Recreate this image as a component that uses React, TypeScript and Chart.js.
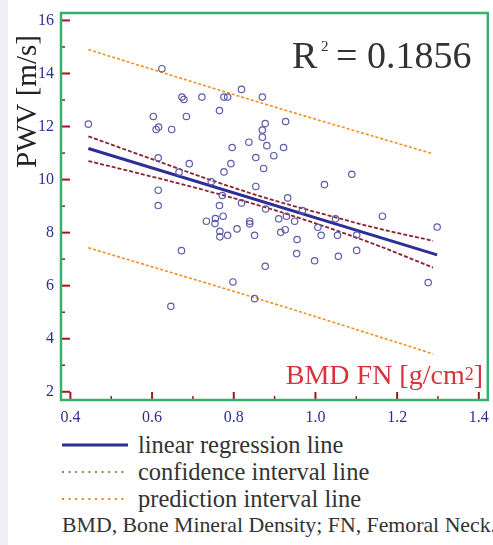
import React, { useEffect, useRef } from 'react';
import { Chart, registerables } from 'chart.js';

Chart.register(...registerables);

// BMD FN [g/cm²] (x) and PWV [m/s] (y) of each subject
const bmdFN = [
  0.444, 0.624, 0.673, 0.678, 0.722, 0.765, 0.603, 0.684, 0.616, 0.610,
  0.648, 0.615, 0.691, 0.666, 0.745, 0.615, 0.615, 0.765, 0.819, 0.776,
  0.785, 0.870, 0.877, 0.870, 0.927, 0.870, 0.881, 0.837, 0.796, 0.922,
  0.854, 0.898, 0.793, 0.873, 0.776, 1.089, 1.022, 0.854, 0.932, 0.772,
  1.164, 0.819, 0.878, 0.968, 0.774, 0.755, 0.733, 0.754, 0.839, 0.839,
  0.910, 0.929, 0.949, 1.049, 1.101, 0.766, 0.766, 0.785, 0.808, 0.851,
  0.915, 0.926, 1.006, 1.014, 1.054, 0.955, 0.954, 0.998, 1.056, 1.101,
  0.877, 0.798, 0.851, 0.672, 0.646, 1.298, 1.276,
];
const pwv = [
  12.09, 14.18, 13.11, 13.02, 13.11, 12.6, 12.38, 12.38, 11.98, 11.89,
  11.89, 10.82, 10.6, 10.28, 9.92, 9.6, 9.02, 9.02, 13.4, 13.11,
  13.11, 13.11, 12.11, 11.87, 12.19, 11.6, 11.28, 11.41, 11.21, 11.21,
  10.83, 10.9, 10.6, 10.42, 10.29, 10.2, 9.81, 9.74, 9.31, 9.4,
  8.62, 9.12, 8.89, 8.83, 8.62, 8.53, 8.43, 8.34, 8.43, 8.33,
  8.52, 8.62, 8.43, 8.52, 7.91, 8.05, 7.84, 7.9, 8.14, 7.9,
  8.01, 8.11, 8.2, 7.9, 7.9, 7.74, 7.21, 6.94, 7.11, 7.33,
  6.73, 6.14, 5.51, 7.32, 5.22, 8.21, 6.12,
];

// Linear regression line
const regX = [0.444, 1.298];
const regY = [11.17, 7.16];

// Confidence interval lines
const ciX = [0.444, 0.6, 0.75, 0.88, 1.0, 1.15, 1.288];
const ciUpper = [11.63, 10.77, 9.95, 9.3, 8.78, 8.17, 7.69];
const ciLower = [10.7, 10.11, 9.51, 8.94, 8.35, 7.53, 6.68];

// Prediction interval lines
const piX = [0.444, 0.88, 1.288];
const piUpper = [14.9, 12.83, 10.97];
const piLower = [7.43, 5.41, 3.43];

// Axes
const xTicks = [0.4, 0.6, 0.8, 1.0, 1.2, 1.4];
const xMinorTicks = [0.5, 0.7, 0.9, 1.1, 1.3];
const yTicks = [2, 4, 6, 8, 10, 12, 14, 16];
const yMinorTicks = [3, 5, 7, 9, 11, 13, 15];
const xRange = [0.377, 1.422];
const yRange = [1.69, 16.28];

const r2Text = '0.1856';

const SERIF = '"Liberation Serif", "Times New Roman", serif';
const NAVY = '#2d2f8e';
const TICK_RED = '#a3161f';
const GREEN = '#3aaf6c';

const zip = (xs: number[], ys: number[]) => xs.map((x, i) => ({ x, y: ys[i] }));

const decorPlugin = {
  id: 'decor',
  afterDraw(chart: any) {
    const { ctx, chartArea: a } = chart;
    const x = chart.scales.x;
    const y = chart.scales.y;
    ctx.save();
    ctx.strokeStyle = TICK_RED;
    const tick = (x1: number, y1: number, x2: number, y2: number, w: number) => {
      ctx.lineWidth = w;
      ctx.beginPath();
      ctx.moveTo(x1, y1);
      ctx.lineTo(x2, y2);
      ctx.stroke();
    };
    xTicks.forEach((v) => {
      const px = x.getPixelForValue(v);
      tick(px, a.bottom, px, a.bottom - 8, 2);
    });
    xMinorTicks.forEach((v) => {
      const px = x.getPixelForValue(v);
      tick(px, a.bottom, px, a.bottom - 4, 1.5);
    });
    yTicks.forEach((v) => {
      const py = y.getPixelForValue(v);
      tick(a.left, py, a.left + 9, py, 2);
    });
    yMinorTicks.forEach((v) => {
      const py = y.getPixelForValue(v);
      tick(a.left, py, a.left + 4, py, 1.5);
    });

    // frame
    ctx.strokeStyle = GREEN;
    ctx.lineWidth = 2.5;
    ctx.strokeRect(a.left, a.top, a.right - a.left, a.bottom - a.top);

    // R² annotation
    ctx.fillStyle = '#333333';
    ctx.textAlign = 'left';
    ctx.textBaseline = 'alphabetic';
    ctx.font = `38px ${SERIF}`;
    ctx.fillText('R', 292, 68);
    ctx.font = `15px ${SERIF}`;
    ctx.fillText('2', 321, 51);
    ctx.font = `38px ${SERIF}`;
    ctx.fillText('= ' + r2Text, 336, 68);

    // x axis title (inside, bottom right)
    ctx.fillStyle = '#d8323c';
    const mainFont = `28px ${SERIF}`;
    const supFont = `18px ${SERIF}`;
    ctx.font = mainFont;
    const p1 = 'BMD FN [g/cm';
    const w1 = ctx.measureText(p1).width;
    const w3 = ctx.measureText(']').width;
    ctx.font = supFont;
    const w2 = ctx.measureText('2').width;
    const endX = 483;
    let sx = endX - (w1 + w2 + w3);
    ctx.font = mainFont;
    ctx.fillText(p1, sx, 384);
    sx += w1;
    ctx.font = supFont;
    ctx.fillText('2', sx, 380);
    sx += w2;
    ctx.font = mainFont;
    ctx.fillText(']', sx, 384);

    // y axis title (rotated)
    ctx.fillStyle = '#222222';
    ctx.font = `29px ${SERIF}`;
    ctx.translate(36, 168);
    ctx.rotate(-Math.PI / 2);
    ctx.fillText('PWV [m/s]', 0, 0);
    ctx.restore();
  },
};

export default function App() {
  const ref = useRef<HTMLCanvasElement | null>(null);

  useEffect(() => {
    if (!ref.current) return;
    const chart = new Chart(ref.current, {
      type: 'scatter',
      data: {
        datasets: [
          {
            label: 'data',
            data: zip(bmdFN, pwv),
            pointStyle: 'circle',
            pointRadius: 3.2,
            pointBorderWidth: 1.2,
            borderColor: '#5c5ca8',
            backgroundColor: 'rgba(0,0,0,0)',
            showLine: false,
          },
          {
            label: 'prediction upper',
            data: zip(piX, piUpper),
            showLine: true,
            pointRadius: 0,
            borderColor: '#f0901e',
            borderWidth: 1.6,
            borderDash: [3, 2],
            cubicInterpolationMode: 'monotone',
          },
          {
            label: 'prediction lower',
            data: zip(piX, piLower),
            showLine: true,
            pointRadius: 0,
            borderColor: '#f0901e',
            borderWidth: 1.6,
            borderDash: [3, 2],
            cubicInterpolationMode: 'monotone',
          },
          {
            label: 'linear regression line',
            data: zip(regX, regY),
            showLine: true,
            pointRadius: 0,
            borderColor: '#2d2f96',
            borderWidth: 3,
          },
          {
            label: 'confidence upper',
            data: zip(ciX, ciUpper),
            showLine: true,
            pointRadius: 0,
            borderColor: '#8b2232',
            borderWidth: 1.8,
            borderDash: [4, 2],
            cubicInterpolationMode: 'monotone',
          },
          {
            label: 'confidence lower',
            data: zip(ciX, ciLower),
            showLine: true,
            pointRadius: 0,
            borderColor: '#8b2232',
            borderWidth: 1.8,
            borderDash: [4, 2],
            cubicInterpolationMode: 'monotone',
          },
        ] as any,
      },
      options: {
        responsive: false,
        animation: false,
        layout: { padding: { left: 8, right: 4, top: 13, bottom: 0 } },
        plugins: {
          legend: { display: false },
          tooltip: { enabled: false },
        },
        scales: {
          x: {
            type: 'linear',
            min: xRange[0],
            max: xRange[1],
            grid: { display: false, drawTicks: false },
            border: { display: false },
            afterBuildTicks: (s: any) => {
              s.ticks = xTicks.map((v) => ({ value: v }));
            },
            afterFit: (s: any) => {
              s.height = 25;
              s.paddingLeft = 0;
              s.paddingRight = 0;
            },
            ticks: {
              autoSkip: false,
              maxRotation: 0,
              padding: 8,
              color: NAVY,
              font: { family: SERIF, size: 16 },
              callback: (v: any) => Number(v).toFixed(1),
            },
          },
          y: {
            type: 'linear',
            min: yRange[0],
            max: yRange[1],
            grid: { display: false, drawTicks: false },
            border: { display: false },
            afterBuildTicks: (s: any) => {
              s.ticks = yTicks.map((v) => ({ value: v }));
            },
            afterFit: (s: any) => {
              s.width = 53;
              s.paddingTop = 0;
              s.paddingBottom = 0;
            },
            ticks: {
              autoSkip: false,
              padding: 7,
              color: NAVY,
              font: { family: SERIF, size: 16 },
              callback: (v: any) => String(v),
            },
          },
        },
      } as any,
      plugins: [decorPlugin],
    });
    return () => chart.destroy();
  }, []);

  const rowStyle: React.CSSProperties = {
    display: 'flex',
    alignItems: 'center',
    height: 27,
    lineHeight: '27px',
    whiteSpace: 'nowrap',
  };
  const sample = (color: string, dash: string, w: number) => (
    <svg width={66} height={4} style={{ marginRight: 10, flex: '0 0 auto' }}>
      <line x1={0} y1={2} x2={66} y2={2} stroke={color} strokeWidth={w} strokeDasharray={dash} />
    </svg>
  );

  return (
    <div
      style={{
        position: 'fixed',
        left: 0,
        top: 0,
        width: 493,
        height: 545,
        background: '#ffffff',
        overflow: 'hidden',
        fontFamily: SERIF,
      }}
    >
      <div style={{ position: 'absolute', left: 0, top: 0, width: 8, height: 545, background: '#eef0f6' }} />
      <canvas
        ref={ref}
        width={493}
        height={425}
        style={{ position: 'absolute', left: 0, top: 0, width: 493, height: 425 }}
      />
      <div style={{ position: 'absolute', left: 62, top: 431, color: '#333333' }}>
        <div style={{ ...rowStyle, fontSize: 24.5 }}>
          {sample('#2d2f96', 'none', 3)}
          <span>linear regression line</span>
        </div>
        <div style={{ ...rowStyle, fontSize: 24.5 }}>
          {sample('#a0845a', '2 4.6', 2)}
          <span>confidence interval line</span>
        </div>
        <div style={{ ...rowStyle, fontSize: 24.5 }}>
          {sample('#f07f20', '2 4.6', 2)}
          <span>prediction interval line</span>
        </div>
        <div style={{ ...rowStyle, fontSize: 21.8 }}>
          <span>BMD, Bone Mineral Density; FN, Femoral Neck.</span>
        </div>
      </div>
    </div>
  );
}
